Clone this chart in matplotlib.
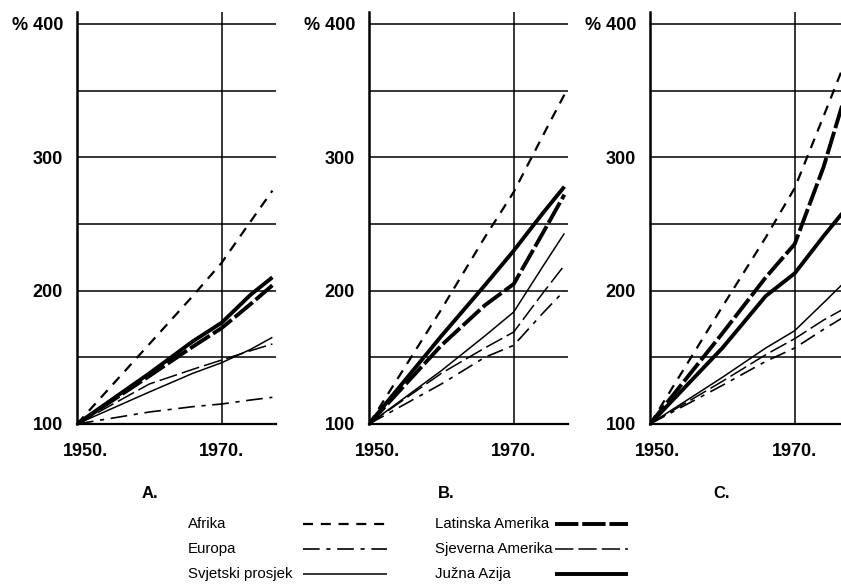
import matplotlib.pyplot as plt
from matplotlib.lines import Line2D
from matplotlib.transforms import ScaledTranslation

plt.rcParams['font.family'] = ['Liberation Sans', 'DejaVu Sans']

years = [1950, 1960, 1966, 1970, 1974, 1977]
panels = ['A.', 'B.', 'C.']

# index 1950 = 100, one row per panel (A, B, C)
afrika = [[100, 160, 196, 221, 252, 275],
          [100, 186, 240, 274, 316, 347],
          [100, 188, 240, 277, 331, 372]]
europa = [[100, 109, 113, 115, 118, 120],
          [100, 130, 150, 159, 183, 200],
          [100, 129, 147, 157, 171, 181]]
svjetski = [[100, 124, 138, 146, 156, 165],
            [100, 140, 166, 184, 218, 243],
            [100, 135, 157, 170, 191, 207]]
latinska = [[100, 136, 158, 172, 190, 204],
            [100, 159, 189, 205, 243, 272],
            [100, 168, 210, 235, 293, 347]]
sjeverna = [[100, 130, 141, 148, 155, 160],
            [100, 138, 157, 169, 198, 219],
            [100, 132, 152, 164, 178, 187]]
juzna = [[100, 138, 162, 176, 197, 210],
         [100, 166, 204, 230, 258, 278],
         [100, 157, 196, 213, 241, 261]]

names = ['Afrika', 'Europa', 'Svjetski prosjek',
         'Latinska Amerika', 'Sjeverna Amerika', 'Južna Azija']
series = [afrika, europa, svjetski, latinska, sjeverna, juzna]
styles = [dict(lw=1.6, ls=(0, (4.5, 3.5))),
          dict(lw=1.2, ls=(0, (10, 4, 2.5, 4))),
          dict(lw=1.1, ls='-'),
          dict(lw=2.8, ls=(0, (6, 1.0))),
          dict(lw=1.1, ls=(0, (12, 3.3))),
          dict(lw=2.8, ls='-')]

yticks = [100, 150, 200, 250, 300, 350, 400]
ylabels = ['100', '', '200', '', '300', '', '% 400']

fig = plt.figure(figsize=(8.41, 5.87), dpi=100)
W, H = 841, 587
lefts = [77, 369, 650]
label_x = [150, 446, 722]

for i, left in enumerate(lefts):
    ax = fig.add_axes([left / W, (H - 424) / H, 199 / W, (424 - 12) / H])
    ax.set_xlim(1950, 1977.5)
    ax.set_ylim(100, 409)
    for s, st in zip(series, styles):
        ax.plot(years, s[i], color='black', solid_capstyle='butt', **st)
    ax.set_yticks(yticks)
    ax.set_yticklabels(ylabels, fontsize=13, fontweight='bold')
    ax.set_xticks([1950, 1970])
    ax.set_xticklabels(['1950.', '1970.'], fontsize=13, fontweight='bold')
    ax.tick_params(length=0)
    ax.tick_params(axis='y', pad=10)
    ax.tick_params(axis='x', pad=14)
    lab = ax.get_xticklabels()[0]
    lab.set_transform(lab.get_transform() + ScaledTranslation(0.08, 0, fig.dpi_scale_trans))
    ax.grid(axis='y', color='black', lw=1.1)
    ax.axvline(1970, color='black', lw=1.1)
    ax.set_axisbelow(True)
    for sp in ['top', 'right']:
        ax.spines[sp].set_visible(False)
    ax.spines['left'].set_linewidth(1.8)
    ax.spines['bottom'].set_linewidth(1.6)
    fig.text(label_x[i] / W, 1 - 493 / H, panels[i], fontsize=12, fontweight='bold',
             ha='center', va='center')

# legend, two columns of label + sample line
row_y = [524, 549, 574]
cols = [(188, 303, 387), (435, 555, 628)]
for k, (name, st) in enumerate(zip(names, styles)):
    tx, x0, x1 = cols[k // 3]
    y = 1 - row_y[k % 3] / H
    fig.text(tx / W, y, name, fontsize=10.8, ha='left', va='center')
    fig.add_artist(Line2D([x0 / W, x1 / W], [y, y], color='black',
                          transform=fig.transFigure, solid_capstyle='butt', **st))

fig.savefig('out.png', dpi=100)
